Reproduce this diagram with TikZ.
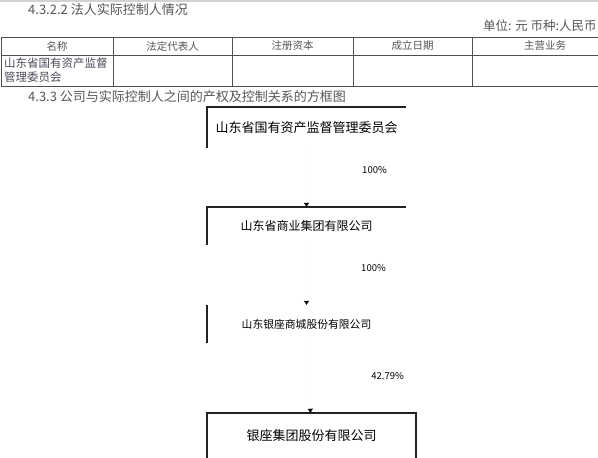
\documentclass[tikz,border=0pt]{standalone}
\usepackage{fontspec}
\setmainfont{Noto Sans CJK SC}
\usepackage{tikz}
\usetikzlibrary{arrows.meta}
\definecolor{txtgray}{HTML}{555555}
\definecolor{rulegray}{HTML}{505050}
\definecolor{cellgray}{HTML}{4A4A5A}
\definecolor{framegray}{HTML}{222222}

\begin{document}
\begin{tikzpicture}[x=1pt, y=-1pt,
                        rule/.style={draw=rulegray, line width=0.9pt},
                        head/.style={text=txtgray, inner sep=0pt, font=\fontsize{10.5}{12}\selectfont},
                        title/.style={anchor=west, text=txtgray, inner sep=0pt, font=\fontsize{13}{15}\selectfont},
                        unit/.style={minimum width=199pt, minimum height=38pt, inner sep=0pt, font=\fontsize{12}{14}\selectfont},
                        frame/.style={draw=framegray, line width=1.8pt},
                        share/.style={anchor=east, inner sep=0pt, font=\fontsize{9.5}{11}\selectfont},
                        hold/.style={draw=black!2, line width=0.4pt, -{Triangle[length=4pt, width=5pt, color=black]}}]
                        \useasboundingbox (0,0) rectangle (598,458);

                        \draw[gray!35, line width=1.5pt] (0,1) -- (598,1);

                        \node[title] (legal) at (28,10) {4.3.2.2 法人实际控制人情况};
                        \node[title, font=\fontsize{12.5}{15}\selectfont] (currency) at (483,26) {单位: 元 币种:人民币};

                        \draw[rule] (1,37) rectangle (640,86);
                        \draw[rule] (1,55) -- (640,55);
                        \foreach \cx in {113,232,353,472}
                            \draw[rule] (\cx,37) -- (\cx,86);

                        \node[head] (hname) at (57,46) {名称};
                        \node[head] (hrep) at (172.5,46) {法定代表人};
                        \node[head] (hcap) at (292.5,46) {注册资本};
                        \node[head] (hdate) at (412.5,46) {成立日期};
                        \node[head] (hbiz) at (545,46) {主营业务};

                        \node[anchor=west, align=left, inner sep=0pt, text=cellgray, font=\fontsize{11.5}{14}\selectfont] (cname) at (4,70) {山东省国有资产监督\\管理委员会};

                        \node[title] (chart) at (28,97) {4.3.3 公司与实际控制人之间的产权及控制关系的方框图};

                        \node[unit, minimum height=41pt, font=\fontsize{13}{15}\selectfont] (sasac) at (306.5,127.5) {山东省国有资产监督管理委员会};
                        \node[unit] (group) at (306.5,226) {山东省商业集团有限公司};
                        \node[unit, font=\fontsize{10.8}{13}\selectfont] (mall) at (306.5,324) {山东银座商城股份有限公司};
                        \node[unit, minimum width=209pt, minimum height=46pt, font=\fontsize{13}{15}\selectfont] (corp) at (311.5,436) {银座集团股份有限公司};

                        \draw[frame] (sasac.south west) -- (sasac.north west) -- (sasac.north east);
                        \draw[frame] (group.south west) -- (group.north west) -- (group.north east);
                        \draw[frame] (mall.south west) -- (mall.north west);
                        \draw[frame] (corp.south west) -- (corp.north west) -- (corp.north east) -- (corp.south east);

                        \draw[hold] (sasac) -- (group);
                        \draw[hold] (group) -- (mall);
                        \draw[hold] (mall) -- (corp);

                        \node[share] (s1) at (387,170) {100\%};
                        \node[share] (s2) at (386,268) {100\%};
                        \node[share] (s3) at (404,376) {42.79\%};
                    \end{tikzpicture}
\end{document}
